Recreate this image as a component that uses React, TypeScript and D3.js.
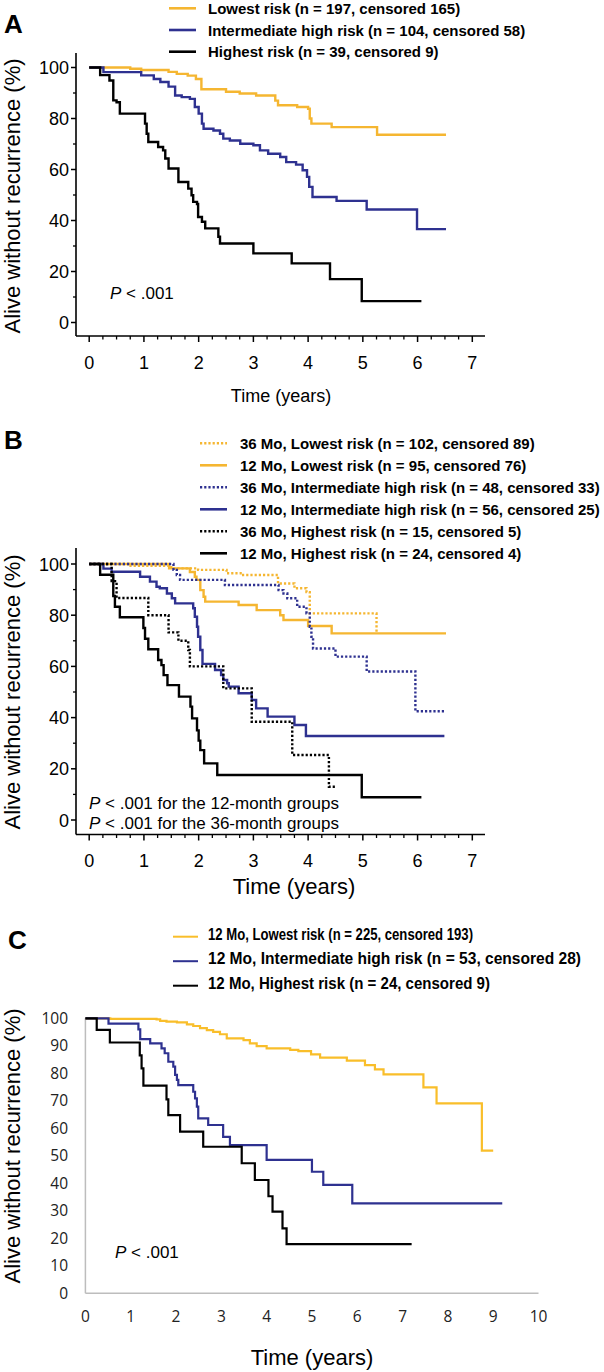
import React from "react";
import * as d3 from "d3";

// ---------- Panel A data (time in years, survival in %) ----------
const aLowestTime = [0, 0.75, 0.95, 1.45, 1.6, 1.8, 1.95, 2.05, 2.5, 2.75, 3.05, 3.4, 3.45, 3.8, 4.0, 4.03, 4.06, 4.43, 5.26, 6.52];
const aLowestSurv = [100, 99.5, 99, 98.3, 97.5, 96.8, 95.5, 91.5, 90.5, 89.8, 89, 87, 85.2, 84.5, 83.8, 80, 78, 76.6, 73.6, 73.6];
const aInterTime = [0, 0.26, 0.95, 1.18, 1.3, 1.45, 1.57, 1.69, 1.84, 1.93, 2.0, 2.06, 2.09, 2.27, 2.39, 2.45, 2.57, 2.76, 3.0, 3.12, 3.27, 3.49, 3.6, 3.78, 3.9, 3.98, 4.02, 4.08, 4.52, 5.07, 5.99, 6.52];
const aInterSurv = [100, 98.2, 96.9, 95.5, 94.3, 92.5, 89, 88.4, 87.7, 84.5, 81.9, 78, 76, 75.3, 74, 72.1, 71.4, 70.1, 69.5, 67.5, 66.2, 64.9, 62.9, 61.9, 59.7, 57.1, 53.2, 49.2, 47.7, 44.3, 36.6, 36.6];
const aHighTime = [0, 0.2, 0.37, 0.44, 0.5, 0.56, 1.02, 1.05, 1.08, 1.26, 1.35, 1.39, 1.45, 1.63, 1.81, 1.87, 1.9, 1.97, 1.99, 2.06, 2.12, 2.36, 2.39, 3.0, 3.7, 4.4, 4.98, 6.07];
const aHighSurv = [100, 97, 94.9, 87.1, 86.4, 81.9, 78, 74, 70.8, 68.8, 67.5, 64.3, 60.4, 55.1, 52.5, 49.9, 47.3, 46.5, 41.4, 39.5, 36.9, 33.6, 31, 27.1, 23.2, 17, 8.4, 8.4];

// ---------- Panel B data ----------
const bLow36Time = [0, 0.73, 1.5, 1.99, 2.51, 2.79, 3.45, 3.75, 3.97, 4.03, 5.25];
const bLow36Surv = [100, 99.3, 98.3, 97.7, 96.4, 95.7, 92.4, 90.5, 89, 80.7, 72.9];
const bLow12Time = [0, 1.46, 1.84, 1.93, 1.96, 2.03, 2.09, 2.12, 2.73, 3.06, 3.49, 3.55, 4.0, 4.43, 6.52];
const bLow12Surv = [100, 98.3, 96.9, 95, 93.8, 89.8, 87.2, 85.3, 84, 82, 80, 78.1, 75.8, 72.9, 72.9];
const bInt36Time = [0, 1.54, 1.6, 1.66, 2.48, 3.46, 3.55, 3.62, 3.8, 3.97, 4.03, 4.06, 4.09, 4.5, 5.07, 5.96, 6.5];
const bInt36Surv = [100, 97.7, 95.7, 93.8, 91.8, 89.8, 88.5, 86.6, 83.3, 80.7, 75.5, 71.6, 67, 63.8, 58, 42.5, 42.5];
const bInt12Time = [0, 0.26, 0.41, 0.93, 1.11, 1.23, 1.29, 1.42, 1.51, 1.57, 1.9, 1.93, 1.97, 1.99, 2.03, 2.07, 2.3, 2.41, 2.45, 2.52, 2.55, 2.73, 2.97, 3.05, 3.26, 3.75, 3.96, 6.49];
const bInt12Surv = [100, 98.2, 97, 95, 93.1, 91.1, 90.5, 88.5, 86.6, 84.6, 82.7, 79.4, 75.5, 71.6, 66.4, 61, 58.6, 56.6, 54.7, 53.4, 52.1, 49.5, 46.9, 43.6, 40.4, 37.1, 32.8, 32.8];
const bHigh36Time = [0, 0.41, 0.5, 1.08, 1.45, 1.63, 1.81, 1.84, 2.45, 2.97, 3.71, 4.38, 4.52];
const bHigh36Surv = [100, 93.3, 86.7, 80, 73.3, 70, 66.4, 60, 51.4, 38.4, 25.4, 13, 13];
const bHigh12Time = [0, 0.2, 0.44, 0.47, 0.56, 0.99, 1.02, 1.08, 1.26, 1.32, 1.36, 1.43, 1.64, 1.85, 1.88, 1.97, 2.0, 2.03, 2.1, 2.34, 4.98, 6.07];
const bHigh12Surv = [100, 95.8, 87.5, 83.3, 79.2, 75, 70.8, 66.7, 62.5, 60.5, 56.6, 52.7, 48.2, 44.3, 39.7, 35, 31, 27.3, 22.1, 17.6, 8.9, 8.9];

// ---------- Panel C data ----------
const cLowTime = [0, 0.55, 1.57, 1.65, 1.79, 2.02, 2.24, 2.38, 2.53, 2.68, 2.82, 2.97, 3.12, 3.49, 3.63, 3.78, 4.0, 4.52, 4.7, 4.98, 5.18, 5.77, 6.17, 6.39, 6.58, 7.46, 7.75, 8.75, 9.0];
const cLowSurv = [100, 99.8, 99.6, 99.1, 98.8, 98.5, 97.8, 97.2, 96.4, 95.7, 95.1, 94.2, 92.7, 92.1, 90.9, 89.9, 89.1, 88.5, 88.1, 86.9, 85.7, 84.6, 83, 81.4, 79.6, 74.9, 69.1, 51.9, 51.9];
const cIntTime = [0, 0.51, 1.17, 1.21, 1.43, 1.68, 1.75, 1.83, 1.94, 1.98, 2.02, 2.05, 2.38, 2.42, 2.46, 2.49, 2.71, 3.04, 3.19, 4.0, 5.0, 5.25, 5.89, 9.2];
const cIntSurv = [100, 98.1, 96, 92.4, 90.9, 89.1, 87.3, 84.2, 82.4, 79.4, 77.6, 75.7, 73.3, 70.9, 67.9, 63.6, 61.2, 56.9, 53.9, 48.5, 44.2, 39.4, 32.7, 32.7];
const cHighTime = [0, 0.25, 0.54, 1.2, 1.24, 1.28, 1.79, 1.83, 2.09, 2.6, 3.45, 3.74, 4.04, 4.13, 4.35, 4.44, 7.2];
const cHighSurv = [100, 95.8, 91.2, 86.5, 81.8, 75.5, 70.5, 64.8, 58.8, 53.3, 47.3, 41.2, 35.3, 29.7, 23.6, 17.9, 17.9];

// ---------- Labels ----------
const legendA = [
  "Lowest risk (n = 197, censored 165)",
  "Intermediate high risk (n = 104, censored 58)",
  "Highest risk (n = 39, censored 9)",
];
const legendB = [
  "36 Mo, Lowest risk (n = 102, censored 89)",
  "12 Mo, Lowest risk (n = 95, censored 76)",
  "36 Mo, Intermediate high risk (n = 48, censored 33)",
  "12 Mo, Intermediate high risk (n = 56, censored 25)",
  "36 Mo, Highest risk (n = 15, censored 5)",
  "12 Mo, Highest risk (n = 24, censored 4)",
];
const legendC = [
  "12 Mo, Lowest risk (n = 225, censored 193)",
  "12 Mo, Intermediate high risk (n = 53, censored 28)",
  "12 Mo, Highest risk (n = 24, censored 9)",
];
const xTicksAB = [0, 1, 2, 3, 4, 5, 6, 7];
const yTicksAB = [0, 20, 40, 60, 80, 100];
const xTicksC = [0, 1, 2, 3, 4, 5, 6, 7, 8, 9, 10];
const yTicksC = [0, 10, 20, 30, 40, 50, 60, 70, 80, 90, 100];

const YELLOW = "#F5B631";
const YELLOW_C = "#F9BE2A";
const NAVY = "#2E3190";
const BLACK = "#000000";
const SANS = "'Liberation Sans', Arial, Helvetica, sans-serif";
const CAL = "'Open Sans', 'Noto Sans', sans-serif";

type Scale = d3.ScaleLinear<number, number>;

function stepPath(x: Scale, y: Scale, times: number[], surv: number[]) {
  const pts: [number, number][] = times.map((t, i) => [t, surv[i]]);
  return d3
    .line<[number, number]>()
    .x((d) => x(d[0]))
    .y((d) => y(d[1]))
    .curve(d3.curveStepAfter)(pts) || "";
}

function AxesAB({ x, y, top, axisY, axisX, axisEnd }: { x: Scale; y: Scale; top: number; axisY: number; axisX: number; axisEnd: number }) {
  const minorX = d3.range(0, 7.001, 0.25).filter((v) => Math.abs(v - Math.round(v)) > 1e-6);
  const minorY = d3.range(10, 100, 20);
  return (
    <g>
      <line x1={axisX} y1={top} x2={axisX} y2={axisY} stroke="#000" strokeWidth={1.6} />
      <line x1={axisX} y1={axisY} x2={axisEnd} y2={axisY} stroke="#000" strokeWidth={1.6} />
      {xTicksAB.map((v) => (
        <g key={"xm" + v}>
          <line x1={x(v)} x2={x(v)} y1={axisY} y2={axisY + 6} stroke="#000" strokeWidth={1.5} />
          <text x={x(v)} y={axisY + 32.5} textAnchor="middle" fontSize={18} fontFamily={SANS}>{v}</text>
        </g>
      ))}
      {minorX.map((v) => (
        <line key={"xn" + v} x1={x(v)} x2={x(v)} y1={axisY} y2={axisY + 3.5} stroke="#000" strokeWidth={1.3} />
      ))}
      {yTicksAB.map((v) => (
        <g key={"ym" + v}>
          <line x1={axisX - 5} x2={axisX} y1={y(v)} y2={y(v)} stroke="#000" strokeWidth={1.5} />
          <text x={axisX - 7} y={y(v) + 6.5} textAnchor="end" fontSize={18} fontFamily={SANS}>{v}</text>
        </g>
      ))}
      {minorY.map((v) => (
        <line key={"yn" + v} x1={axisX - 3} x2={axisX} y1={y(v)} y2={y(v)} stroke="#000" strokeWidth={1.3} />
      ))}
    </g>
  );
}

function YLabel({ cx, cy }: { cx: number; cy: number }) {
  return (
    <text transform={`translate(${cx},${cy}) rotate(-90)`} textAnchor="middle" fontSize={22} fontFamily={SANS}>
      Alive without recurrence (%)
    </text>
  );
}

export default function App() {
  // Panel A scales
  const xA = d3.scaleLinear().domain([0, 7]).range([89.2, 472.3]);
  const yA = d3.scaleLinear().domain([0, 100]).range([322.5, 67.5]);
  // Panel B scales
  const xB = d3.scaleLinear().domain([0, 7]).range([89.2, 472.3]);
  const yB = d3.scaleLinear().domain([0, 100]).range([820, 564]);
  // Panel C scales
  const xC = d3.scaleLinear().domain([0, 10]).range([85.4, 538.5]);
  const yC = d3.scaleLinear().domain([0, 100]).range([1293.3, 1018.3]);

  const sw = 2.4;
  const dash = "2.2,2";

  const seriesA = [
    { t: aLowestTime, s: aLowestSurv, c: YELLOW },
    { t: aInterTime, s: aInterSurv, c: NAVY },
    { t: aHighTime, s: aHighSurv, c: BLACK },
  ];
  const seriesB = [
    { t: bLow36Time, s: bLow36Surv, c: YELLOW, d: true },
    { t: bLow12Time, s: bLow12Surv, c: YELLOW, d: false },
    { t: bInt36Time, s: bInt36Surv, c: NAVY, d: true },
    { t: bInt12Time, s: bInt12Surv, c: NAVY, d: false },
    { t: bHigh36Time, s: bHigh36Surv, c: BLACK, d: true },
    { t: bHigh12Time, s: bHigh12Surv, c: BLACK, d: false },
  ];
  const seriesC = [
    { t: cLowTime, s: cLowSurv, c: YELLOW_C },
    { t: cIntTime, s: cIntSurv, c: NAVY },
    { t: cHighTime, s: cHighSurv, c: BLACK },
  ];
  const legendCWidths = [265, 373, 282];

  return (
    <svg width={604} height={1372} style={{ position: "absolute", left: 0, top: 0, background: "#fff" }} xmlns="http://www.w3.org/2000/svg">
      <rect x={0} y={0} width={604} height={1372} fill="#fff" />

      {/* ================= Panel A ================= */}
      <text x={4} y={33} fontSize={26} fontWeight="bold" fontFamily={SANS}>A</text>
      {legendA.map((lbl, i) => (
        <g key={"la" + i}>
          <line x1={169} x2={196} y1={8.3 + i * 21.7} y2={8.3 + i * 21.7} stroke={seriesA[i].c} strokeWidth={2.6} />
          <text x={208} y={13.8 + i * 21.7} fontSize={15} fontWeight="bold" fontFamily={SANS}>{lbl}</text>
        </g>
      ))}
      <AxesAB x={xA} y={yA} top={53} axisY={336} axisX={76} axisEnd={485} />
      {seriesA.map((s, i) => (
        <path key={"pa" + i} d={stepPath(xA, yA, s.t, s.s)} fill="none" stroke={s.c} strokeWidth={sw} />
      ))}
      <text x={110} y={299} fontSize={17} fontFamily={SANS}>
        <tspan fontStyle="italic">P</tspan> &lt; .001
      </text>
      <YLabel cx={20} cy={196} />
      <text x={281} y={402} textAnchor="middle" fontSize={18} fontFamily={SANS}>Time (years)</text>

      {/* ================= Panel B ================= */}
      <text x={4} y={449} fontSize={26} fontWeight="bold" fontFamily={SANS}>B</text>
      {legendB.map((lbl, i) => (
        <g key={"lb" + i}>
          <line x1={200} x2={227} y1={443.3 + i * 22} y2={443.3 + i * 22} stroke={seriesB[i].c} strokeWidth={2.6} strokeDasharray={seriesB[i].d ? dash : undefined} />
          <text x={240} y={448.8 + i * 22} fontSize={15} fontWeight="bold" fontFamily={SANS}>{lbl}</text>
        </g>
      ))}
      <AxesAB x={xB} y={yB} top={548} axisY={834.5} axisX={76} axisEnd={485} />
      {seriesB.map((s, i) => (
        <path key={"pb" + i} d={stepPath(xB, yB, s.t, s.s)} fill="none" stroke={s.c} strokeWidth={sw} strokeDasharray={s.d ? dash : undefined} />
      ))}
      <text x={89} y={809} fontSize={17} fontFamily={SANS}>
        <tspan fontStyle="italic">P</tspan> &lt; .001 for the 12-month groups
      </text>
      <text x={89} y={829} fontSize={17} fontFamily={SANS}>
        <tspan fontStyle="italic">P</tspan> &lt; .001 for the 36-month groups
      </text>
      <YLabel cx={20} cy={692} />
      <text x={294} y={894} textAnchor="middle" fontSize={22} fontFamily={SANS}>Time (years)</text>

      {/* ================= Panel C ================= */}
      <text x={8} y={949} fontSize={26} fontWeight="bold" fontFamily={SANS}>C</text>
      {legendC.map((lbl, i) => (
        <g key={"lc" + i}>
          <line x1={173} x2={198} y1={936.7 + i * 24.5} y2={936.7 + i * 24.5} stroke={seriesC[i].c} strokeWidth={2} />
          <text x={208} y={939.5 + i * 24.5} fontSize={16} fontWeight="bold" fontFamily={SANS} textLength={legendCWidths[i]} lengthAdjust="spacingAndGlyphs">{lbl}</text>
        </g>
      ))}
      <line x1={xC(0)} x2={xC(0)} y1={yC(100)} y2={yC(0)} stroke="#BDBDBD" strokeWidth={1.5} />
      <line x1={xC(0)} x2={xC(10)} y1={yC(0)} y2={yC(0)} stroke="#BDBDBD" strokeWidth={1.5} />
      {xTicksC.map((v) => (
        <text key={"xc" + v} x={xC(v)} y={1322} textAnchor="middle" fontSize={15.5} fontFamily={CAL} fill="#222">{v}</text>
      ))}
      {yTicksC.map((v) => (
        <text key={"yc" + v} x={68} y={yC(v) + 5.5} textAnchor="end" fontSize={15.5} fontFamily={CAL} fill="#222">{v}</text>
      ))}
      {seriesC.map((s, i) => (
        <path key={"pc" + i} d={stepPath(xC, yC, s.t, s.s)} fill="none" stroke={s.c} strokeWidth={2.2} />
      ))}
      <text x={115} y={1258} fontSize={17} fontFamily={SANS}>
        <tspan fontStyle="italic">P</tspan> &lt; .001
      </text>
      <YLabel cx={20} cy={1146} />
      <text x={312} y={1365} textAnchor="middle" fontSize={22} fontFamily={SANS}>Time (years)</text>
    </svg>
  );
}
